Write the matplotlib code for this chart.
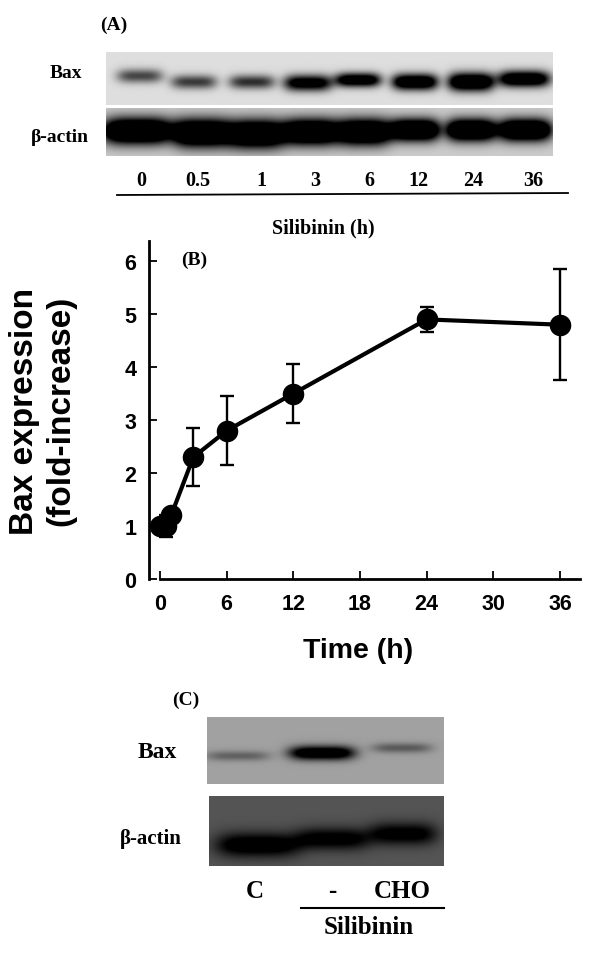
#!/usr/bin/env python3

import numpy as np
import matplotlib
matplotlib.use("Agg")
import matplotlib.pyplot as plt

SERIF = "Liberation Serif"
SANS = "Liberation Sans"

# line plot, panel B
time_h = [0, 0.5, 1, 3, 6, 12, 24, 36]
fold = [1.0, 1.0, 1.2, 2.3, 2.8, 3.5, 4.9, 4.8]
err = [0.05, 0.2, 0.1, 0.55, 0.65, 0.55, 0.23, 1.05]
xticks = [0, 6, 12, 18, 24, 30, 36]
yticks = [0, 1, 2, 3, 4, 5, 6]

# lane labels
lanes_a = ["0", "0.5", "1", "3", "6", "12", "24", "36"]
lanes_a_x = [141, 198, 261, 315, 369, 418, 473, 533]
lanes_c = ["C", "-", "CHO"]
lanes_c_x = [255, 332, 402]

# blots: band centre x, centre y, half width, half height, darkness (pixels)
bax_a_x = [140, 194, 252, 308, 358, 415, 471, 524]
bax_a_y = [77, 83, 83, 84, 81, 83, 83, 80]
bax_a_w = [23, 23, 23, 24, 23, 23, 23, 26]
bax_a_h = [7, 7, 7, 8, 7, 8, 9, 8]
bax_a_d = [0.6, 0.65, 0.7, 1.1, 1.2, 1.3, 1.4, 1.3]

actin_a_x = [138, 202, 256, 311, 364, 415, 471, 525]
actin_a_y = [132, 134, 135, 133, 133, 131, 131, 131]
actin_a_w = [36, 28, 29, 28, 27, 25, 25, 27]
actin_a_h = [13, 14, 14, 13, 13, 11, 11, 11]
actin_a_d = [1.5, 1.5, 1.5, 1.5, 1.5, 1.5, 1.5, 1.5]

bax_c_x = [238, 322, 402]
bax_c_y = [757, 754, 749]
bax_c_w = [32, 33, 30]
bax_c_h = [5, 7, 5]
bax_c_d = [0.25, 0.9, 0.28]

actin_c_x = [258, 333, 403]
actin_c_y = [846, 840, 835]
actin_c_w = [42, 37, 34]
actin_c_h = [12, 11, 11]
actin_c_d = [0.45, 0.4, 0.4]


def blot(ax, box, bg, xs, ys, ws, hs, ds):
    x0, x1, y0, y1 = box
    gx, gy = np.meshgrid(np.arange(x0, x1) + 0.5, np.arange(y0, y1) + 0.5)
    img = np.full(gx.shape, float(bg))
    for x, y, w, h, d in zip(xs, ys, ws, hs, ds):
        img -= d * np.exp(-(((gx - x) / w) ** 4 + ((gy - y) / h) ** 2))
    ax.imshow(img, cmap="gray", vmin=0, vmax=1, extent=(x0, x1, y1, y0),
              interpolation="bilinear", aspect="auto")


def label(ax, x, y, s, size=14, family=SERIF):
    ax.text(x, y, s, ha="center", va="center", fontsize=size,
            fontweight="bold", family=family, color="black")


fig = plt.figure(figsize=(6, 9.54), dpi=100)

# overlay in pixel coordinates for the blots and their labels
page = fig.add_axes([0, 0, 1, 1])
blot(page, (106, 553, 53, 106), 0.87, bax_a_x, bax_a_y, bax_a_w, bax_a_h, bax_a_d)
blot(page, (106, 553, 109, 157), 0.8, actin_a_x, actin_a_y, actin_a_w, actin_a_h, actin_a_d)
blot(page, (207, 444, 718, 785), 0.63, bax_c_x, bax_c_y, bax_c_w, bax_c_h, bax_c_d)
blot(page, (209, 444, 797, 867), 0.33, actin_c_x, actin_c_y, actin_c_w, actin_c_h, actin_c_d)
page.set_xlim(0, 600)
page.set_ylim(954, 0)
page.axis("off")

label(page, 114, 25, "(A)")
label(page, 66, 74, "Bax")
label(page, 60, 137, "β-actin")
for x, s in zip(lanes_a_x, lanes_a):
    label(page, x, 181, s, 14.5)
page.plot([117, 568], [196, 194], color="black", lw=1.3)
label(page, 323, 228, "Silibinin (h)", 14.5)
label(page, 194, 260, "(B)")

label(page, 186, 700, "(C)")
label(page, 157, 753, "Bax", 17)
label(page, 151, 839, "β-actin", 15)
for x, s in zip(lanes_c_x, lanes_c):
    label(page, x, 892, s, 18)
page.plot([301, 444], [909, 909], color="black", lw=1.5)
label(page, 369, 928, "Silibinin", 18)

# panel B axes, y pixels 242-580, x pixels 149-580
ax = fig.add_axes([149 / 600, 1 - 580 / 954, (580 - 149) / 600, (580 - 242) / 954])
ax.patch.set_alpha(0)
ax.errorbar(time_h, fold, yerr=err, color="black", lw=3, elinewidth=1.7, capsize=5,
            capthick=1.7, marker="o", ms=14.5, clip_on=False)
ax.set_xlim(-0.99, 37.8)
ax.set_ylim(0, 6.38)
ax.set_xticks(xticks)
ax.set_yticks(yticks)
ax.spines["top"].set_visible(False)
ax.spines["right"].set_visible(False)
ax.spines["left"].set_linewidth(2)
ax.spines["bottom"].set_linewidth(2)
ax.spines["bottom"].set_bounds(0, 37.8)
ax.tick_params(direction="in", length=6, width=1.3)
ax.tick_params(axis="x", pad=10)
ax.tick_params(axis="y", pad=9)
for t in ax.get_xticklabels() + ax.get_yticklabels():
    t.set_fontsize(15.5)
    t.set_fontweight("bold")
    t.set_family(SANS)

label(page, 358, 651, "Time (h)", 20.5, SANS)
page.text(25, 411, "Bax expression", rotation=90, ha="center", va="center",
          fontsize=24, fontweight="bold", family=SANS)
page.text(61, 411, "(fold-increase)", rotation=90, ha="center", va="center",
          fontsize=24, fontweight="bold", family=SANS)

fig.savefig("out.png", dpi=100)
